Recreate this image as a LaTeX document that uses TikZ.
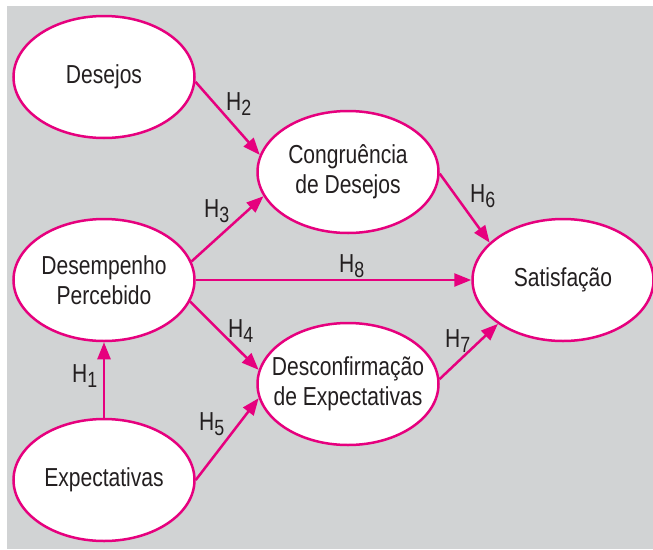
\documentclass[tikz,border=0pt]{standalone}
\usepackage{fontspec}
\setmainfont{Liberation Sans}[FakeStretch=0.81]
\usetikzlibrary{shapes.geometric,arrows.meta}
\definecolor{mag}{HTML}{E6007E}
\definecolor{bgray}{HTML}{D1D3D4}
\definecolor{txt}{HTML}{231F20}
\newcommand{\hyp}[1]{H\raisebox{-5pt}{\fontsize{22}{22}\selectfont #1}}
\begin{document}
\begin{tikzpicture}[x=1pt,y=-1pt,
  var/.style={ellipse, draw=mag, fill=white, line width=2.5pt, minimum width=181pt, minimum height=122pt, inner xsep=-20pt, inner ysep=0pt, align=center, text=txt, font=\fontsize{26}{30}\selectfont},
  link/.style={draw=mag, line width=2.5pt, -{Triangle[length=17pt,width=13pt]}},
  hlabel/.style={text=txt, font=\fontsize{26}{30}\selectfont, inner sep=0pt, anchor=base west}]
\useasboundingbox (0,0) rectangle (653,549);
\fill[bgray] (7,6) rectangle (653,549);

\node[var] (des) at (104,77) {Desejos};
\node[var] (dp) at (104,280) {Desempenho\\Percebido};
\node[var] (exp) at (104,480) {Expectativas};
\node[var] (cg) at (348,172) {Congruência\\de Desejos};
\node[var] (dc) at (348,384) {Desconfirmação\\de Expectativas};
\node[var] (sat) at (563,280) {Satisfação};

\draw[link] (exp.north) -- (dp.south);
\draw[link] (des.-3) -- (cg.169);
\draw[link] (dp.12) -- (cg.-164);
\draw[link] (dp.east) -- (sat.west);
\draw[link] (dp.-14) -- (dc.171);
\draw[link] (exp.0) -- (dc.-171);
\draw[link] (cg.-1) -- (sat.153);
\draw[link] (dc.3) -- (sat.-146);

\node[hlabel] (h1) at (72,382) {\hyp{1}};
\node[hlabel] (h2) at (226,110) {\hyp{2}};
\node[hlabel] (h3) at (204,217) {\hyp{3}};
\node[hlabel] (h4) at (228,337) {\hyp{4}};
\node[hlabel] (h5) at (199,430) {\hyp{5}};
\node[hlabel] (h6) at (470,202) {\hyp{6}};
\node[hlabel] (h7) at (445,347) {\hyp{7}};
\node[hlabel] (h8) at (339,272) {\hyp{8}};
\end{tikzpicture}
\end{document}
